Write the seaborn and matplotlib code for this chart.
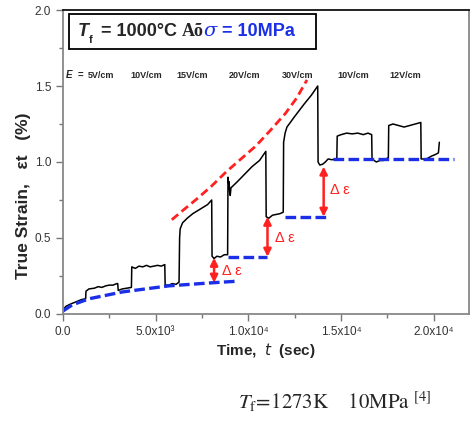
import matplotlib
matplotlib.use("Agg")
import numpy as np
import pandas as pd
import seaborn as sns
from matplotlib import pyplot as plt
from matplotlib.patches import Rectangle
from matplotlib.ticker import MultipleLocator

# creep strain trace (time in s, strain in %)
t_curve = [0, 30, 150, 400, 700, 1000, 1220,
           1240, 1400, 1700, 1900, 2100, 2300, 2500, 2700, 2900,
           2950, 2980, 3200, 3450, 3690,
           3710, 3900, 4100, 4300, 4500, 4700, 4900, 5100, 5300, 5490,
           5510, 5700, 5900, 6100, 6260,
           6290, 6320, 6450, 6700, 7000, 7400, 7800, 8020,
           8040, 8150, 8300, 8500, 8700, 8880,
           8900, 8930, 8960, 8990, 9020, 9060, 9400, 9800, 10200, 10600, 10940,
           10960, 11100, 11300, 11500, 11700, 11880,
           11900, 11980, 12080, 12500, 13000, 13400, 13740,
           13760, 13850, 14000, 14150, 14300, 14500, 14770,
           14790, 15000, 15300, 15600, 15900, 16200, 16450, 16650,
           16670, 16900, 17100, 17300, 17550,
           17570, 17800, 18100, 18400, 18700, 19000, 19300,
           19320, 19600, 19900, 20100, 20250, 20300]
strain_curve = [0.0, 0.03, 0.05, 0.065, 0.08, 0.095, 0.10,
                0.15, 0.165, 0.17, 0.18, 0.175, 0.185, 0.19, 0.19, 0.20,
                0.20, 0.155, 0.165, 0.17, 0.175,
                0.31, 0.30, 0.315, 0.31, 0.32, 0.31, 0.315, 0.32, 0.315, 0.325,
                0.19, 0.19, 0.20, 0.195, 0.21,
                0.50, 0.56, 0.60, 0.63, 0.66, 0.69, 0.72, 0.75,
                0.38, 0.365, 0.38, 0.375, 0.39, 0.39,
                0.90, 0.86, 0.87, 0.80, 0.78, 0.83, 0.87, 0.92, 0.97, 1.01, 1.07,
                0.64, 0.63, 0.65, 0.655, 0.66, 0.67,
                1.13, 1.19, 1.23, 1.30, 1.38, 1.44, 1.50,
                1.00, 0.98, 0.985, 1.00, 1.02, 1.015, 1.02,
                1.17, 1.18, 1.19, 1.185, 1.19, 1.18, 1.19, 1.18,
                1.02, 1.00, 1.01, 1.01, 1.03,
                1.24, 1.25, 1.24, 1.23, 1.24, 1.25, 1.26,
                1.02, 1.02, 1.04, 1.05, 1.06, 1.13]

# red envelope (dashed)
t_red = [5870, 6500, 7200, 8000, 8800, 9600, 10400, 11200, 12000, 12600, 13160]
strain_red = [0.62, 0.685, 0.755, 0.84, 0.935, 1.02, 1.105, 1.21, 1.32, 1.42, 1.54]

# blue baselines (dashed)
t_blue0 = [0, 500, 1400, 3200, 5700, 8000, 9300]
strain_blue0 = [0.02, 0.06, 0.10, 0.145, 0.185, 0.205, 0.215]
blue_steps = [(8890, 11000, 0.373), (11990, 14240, 0.64), (14580, 21110, 1.018)]

# delta-epsilon arrows: (t, low, high)
arrows = [(8150, 0.206, 0.37), (11030, 0.377, 0.64), (14060, 0.64, 0.97)]
delta_label_pos = [(8590, 0.28), (11450, 0.50), (14420, 0.816)]

e_labels = ["5V/cm", "10V/cm", "15V/cm", "20V/cm", "30V/cm", "10V/cm", "12V/cm"]
e_label_t = [1350, 3650, 6130, 8940, 11800, 14820, 17630]

x_ticks = [0, 5000, 10000, 15000, 20000]
x_ticklabels = ["0.0", "5.0x10³", "1.0x10⁴", "1.5x10⁴", "2.0x10⁴"]
y_ticks = [0.0, 0.5, 1.0, 1.5, 2.0]
y_ticklabels = ["0.0", "0.5", "1.0", "1.5", "2.0"]

sns.set_theme(style="ticks")
plt.rcParams['font.family'] = ['Liberation Sans', 'DejaVu Sans']

fig = plt.figure(figsize=(4.7, 4.21), dpi=100)
ax = fig.add_axes([63 / 470, 107 / 421, 406 / 470, 304 / 421])

df = pd.DataFrame({'t': t_curve, 's': strain_curve})
sns.lineplot(data=df, x='t', y='s', sort=False, estimator=None, color='black', lw=1.1, ax=ax)

blue = '#1a2fe6'
red = '#ff2020'
sns.lineplot(x=t_blue0, y=strain_blue0, sort=False, estimator=None, color=blue, lw=2.4,
             ax=ax).lines[-1].set_dashes([3.2, 1.3])
for t0, t1, lvl in blue_steps:
    ax.plot([t0, t1], [lvl, lvl], color=blue, lw=2.4, dashes=[3.2, 1.3])
ax.plot(t_red, strain_red, color=red, lw=2.0, dashes=[3, 1.6])

for (t, lo, hi), (tx, ty) in zip(arrows, delta_label_pos):
    ax.annotate('', xy=(t, hi), xytext=(t, lo),
                arrowprops=dict(arrowstyle='<|-|>', color=red, lw=1.8, mutation_scale=11,
                                shrinkA=0, shrinkB=0))
    ax.text(tx, ty, 'Δ ε', color=red, fontsize=10.5, ha='left', va='center')

# E labels row
ax.text(170, 1.57, 'E', fontsize=7, fontweight='bold', fontstyle='italic', ha='left', va='center')
ax.text(810, 1.57, '=', fontsize=7, fontweight='bold', ha='left', va='center')
for lab, tx in zip(e_labels, e_label_t):
    ax.text(tx, 1.57, lab, fontsize=6.5, fontweight='bold', ha='left', va='center')

# title box
ax.add_patch(Rectangle((0.0148, 0.872), 0.608, 0.115, transform=ax.transAxes,
                       fill=False, ec='black', lw=1.3, zorder=5))
fs = 13
t1 = ax.text(0.037, 0.928, 'T', transform=ax.transAxes, fontsize=fs, fontweight='bold',
             fontstyle='italic', va='center', ha='left')
t2 = ax.annotate('f', xy=(1, 0), xycoords=t1, fontsize=8, fontweight='bold', va='top', ha='left',
                 xytext=(0, 4), textcoords='offset points')
t3 = ax.annotate(' = 1000°C ', xy=(1, 0), xycoords=t1, xytext=(5, 0), textcoords='offset points',
                 fontsize=fs, fontweight='bold', va='bottom', ha='left')
t4 = ax.annotate('Aõ', xy=(1, 0), xycoords=t3, fontsize=fs, fontfamily='Liberation Serif',
                 fontweight='bold', va='bottom', ha='left')
t5 = ax.annotate('σ', xy=(1, 0), xycoords=t4, fontsize=fs + 1, fontfamily='DejaVu Serif',
                 fontstyle='italic', color=blue, va='bottom', ha='left')
ax.annotate(' = 10MPa', xy=(1, 0), xycoords=t5, fontsize=fs, fontweight='bold', color=blue,
            va='bottom', ha='left')

ax.set_xlim(0, 21900)
ax.set_ylim(0, 2.0)
ax.set_xticks(x_ticks)
ax.set_xticklabels(x_ticklabels)
ax.set_yticks(y_ticks)
ax.set_yticklabels(y_ticklabels)
ax.xaxis.set_minor_locator(MultipleLocator(2500))
ax.yaxis.set_minor_locator(MultipleLocator(0.25))
ax.tick_params(which='major', direction='out', length=5, width=1, color='#777777',
               labelsize=8.5, labelcolor='#333333')
ax.tick_params(which='minor', direction='out', length=3, width=1, color='#777777')

for side in ['left', 'bottom', 'right']:
    ax.spines[side].set_color('#888888')
    ax.spines[side].set_linewidth(1.3)
ax.spines['top'].set_color('#111111')
ax.spines['top'].set_linewidth(1.3)

ax.set_xlabel('Time,  $t$  (sec)', fontsize=11, fontweight='bold', labelpad=2)
ax.set_ylabel('True Strain,   εt   (%)', fontsize=12.5, fontweight='bold')
ax.yaxis.set_label_coords(-0.08, 0.39)

fig.text(238 / 470, 1 - 402 / 421,
         r'$T_{\mathrm{f}}\!=\!1273\mathrm{K}\quad\ 10\mathrm{MPa}\ ^{[4]}$',
         math_fontfamily='stix', fontsize=15, ha='left', va='center')

fig.savefig('out.png', dpi=100)
